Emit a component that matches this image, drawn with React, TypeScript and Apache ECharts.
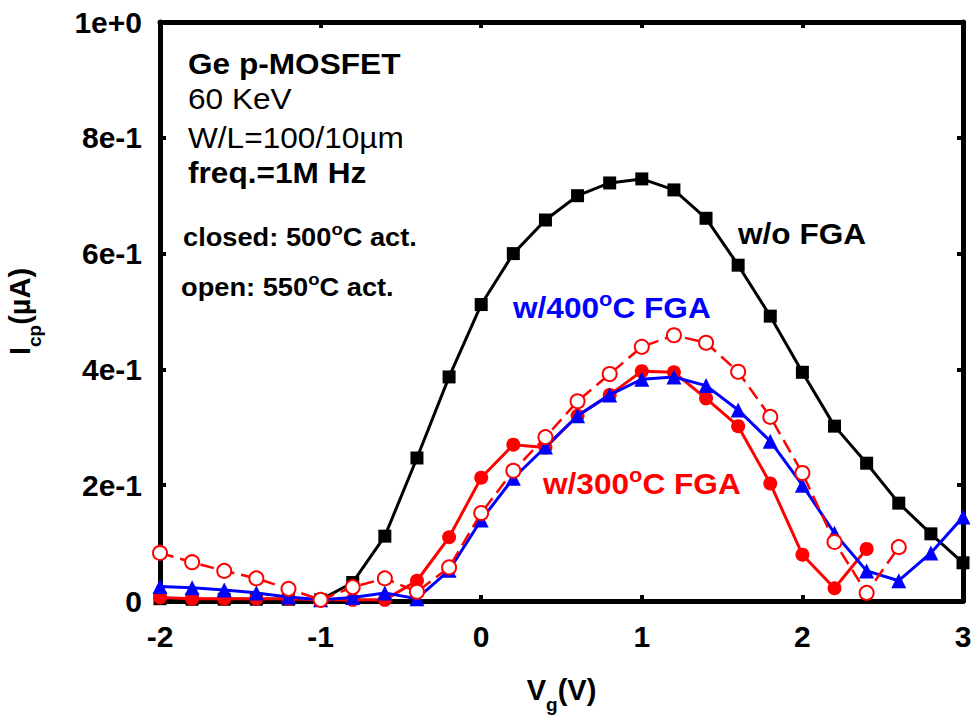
import React, { useEffect, useRef } from "react";
import * as echarts from "echarts";

const vg = [-2, -1.8, -1.6, -1.4, -1.2, -1.0, -0.8, -0.6, -0.4, -0.2, 0, 0.2, 0.4, 0.6, 0.8, 1.0, 1.2, 1.4, 1.6, 1.8, 2.0, 2.2, 2.4, 2.6, 2.8, 3.0];
const noFGA = [0.004, 0.003, 0.003, 0.003, 0.003, 0.002, 0.032, 0.112, 0.247, 0.387, 0.512, 0.6, 0.658, 0.7, 0.722, 0.729, 0.71, 0.661, 0.58, 0.492, 0.395, 0.302, 0.238, 0.169, 0.116, 0.066];
const fga400 = [0.025, 0.023, 0.019, 0.014, 0.007, 0.002, 0.006, 0.014, 0.004, 0.053, 0.14, 0.212, 0.266, 0.32, 0.356, 0.383, 0.387, 0.372, 0.33, 0.276, 0.2, 0.117, 0.052, 0.035, 0.083, 0.145];
const fga300Closed = [0.006, 0.004, 0.004, 0.004, 0.004, 0.002, 0.002, 0.002, 0.035, 0.11, 0.213, 0.27, 0.265, 0.32, 0.356, 0.397, 0.395, 0.35, 0.302, 0.203, 0.08, 0.022, 0.09];
const fga300Open = [0.083, 0.067, 0.052, 0.039, 0.021, 0.002, 0.024, 0.039, 0.016, 0.058, 0.152, 0.225, 0.283, 0.345, 0.392, 0.439, 0.459, 0.446, 0.396, 0.318, 0.221, 0.102, 0.014, 0.093];
const yTickLabels = ["0", "2e-1", "4e-1", "6e-1", "8e-1", "1e+0"];
const xTickLabels = ["-2", "-1", "0", "1", "2", "3"];

const FONT = "Liberation Sans";
const RED = "#ff0000";
const BLUE = "#0000ff";

const pairs = (ys: number[]) => ys.map((y, i) => [vg[i], y]);

export default function App() {
  const ref = useRef<HTMLDivElement>(null);
  useEffect(() => {
    if (!ref.current) return;
    const chart = echarts.init(ref.current, null, { renderer: "svg" });
    const axisLine = { show: true, onZero: false, lineStyle: { color: "#000", width: 5 } };
    const tick = { show: true, inside: true, length: 6, lineStyle: { color: "#000", width: 4 } };
    const labelStyle = { color: "#000", fontSize: 30, fontWeight: "bold", fontFamily: FONT };
    const SX = 1.09;
    // text with a superscript "o"; y is the vertical centre of the main text
    const supText = (t: string, color: string, size: number, x: number, y: number) => ({
      type: "text",
      x,
      y,
      scaleX: SX,
      style: {
        text: t,
        fill: color,
        font: `bold ${size}px ${FONT}`,
        align: "left",
        verticalAlign: "middle",
        rich: {
          n: { fontSize: size, fontWeight: "bold", fontFamily: FONT, fill: color, lineHeight: Math.round(size * 1.3) },
          s: { fontSize: Math.round(size * 0.68), fontWeight: "bold", fontFamily: FONT, fill: color, lineHeight: Math.round(size * 0.68), verticalAlign: "top" },
        },
      },
    });
    const plainText = (t: string, weight: string, size: number, x: number, y: number) => ({
      type: "text",
      x,
      y,
      scaleX: SX,
      style: { text: t, fill: "#000", font: `${weight} ${size}px ${FONT}`, align: "left", verticalAlign: "middle" },
    });
    const nameRich = {
      b: { fontSize: 29, fontWeight: "bold", fontFamily: FONT, color: "#000", lineHeight: 34 },
      sub: { fontSize: 19, fontWeight: "bold", fontFamily: FONT, color: "#000", lineHeight: 19, padding: [22, 0, 0, 0], verticalAlign: "top" },
    };
    chart.setOption({
      animation: false,
      backgroundColor: "#fff",
      grid: { left: 160, right: 11, top: 22, bottom: 117, containLabel: false, outerBoundsMode: "none" },
      xAxis: [
        {
          type: "value",
          position: "bottom",
          min: -2,
          max: 3,
          interval: 1,
          axisLine,
          axisTick: tick,
          splitLine: { show: false },
          axisLabel: { ...labelStyle, margin: 20, formatter: (v: number) => xTickLabels[Math.round(v) + 2] },
          name: "{b|V}{sub|g}{b|(V)}",
          nameLocation: "middle",
          nameGap: 72,
          nameTextStyle: { rich: nameRich },
        },
        {
          type: "value",
          position: "top",
          min: -2,
          max: 3,
          interval: 1,
          axisLine,
          axisTick: tick,
          splitLine: { show: false },
          axisLabel: { show: false },
        },
      ],
      yAxis: [
        {
          type: "value",
          position: "left",
          min: 0,
          max: 1,
          interval: 0.2,
          axisLine,
          axisTick: tick,
          splitLine: { show: false },
          axisLabel: { ...labelStyle, margin: 18, formatter: (v: number) => yTickLabels[Math.round(v * 5)] },
          name: "{b|I}{sub|cp}{b|(µA)}",
          nameLocation: "middle",
          nameRotate: 90,
          nameGap: 123,
          nameTextStyle: { rich: nameRich },
        },
        {
          type: "value",
          position: "right",
          min: 0,
          max: 1,
          interval: 0.2,
          axisLine,
          axisTick: tick,
          splitLine: { show: false },
          axisLabel: { show: false },
        },
      ],
      series: [
        {
          name: "w/o FGA",
          type: "line",
          data: pairs(noFGA),
          symbol: "rect",
          symbolSize: 13,
          lineStyle: { color: "#000", width: 3 },
          itemStyle: { color: "#000" },
          z: 2,
        },
        {
          name: "w/300C FGA closed",
          type: "line",
          data: pairs(fga300Closed),
          symbol: "circle",
          symbolSize: 14,
          lineStyle: { color: RED, width: 3 },
          itemStyle: { color: RED },
          z: 3,
        },
        {
          name: "w/400C FGA",
          type: "line",
          data: pairs(fga400),
          symbol: "triangle",
          symbolSize: 15,
          lineStyle: { color: BLUE, width: 3 },
          itemStyle: { color: BLUE },
          z: 4,
        },
        {
          name: "w/300C FGA open",
          type: "line",
          data: pairs(fga300Open),
          symbol: "circle",
          symbolSize: 14,
          lineStyle: { color: RED, width: 2.5, type: [14, 7] },
          itemStyle: { color: "#fff", borderColor: RED, borderWidth: 2 },
          z: 5,
        },
      ],
      graphic: [
        plainText("Ge p-MOSFET", "bold", 29, 188, 64),
        plainText("60 KeV", "normal", 29, 188, 99),
        plainText("W/L=100/10µm", "normal", 29, 188, 138),
        plainText("freq.=1M Hz", "bold", 29, 188, 173),
        supText("{n|closed: 500}{s|o}{n|C act.}", "#000", 25, 183, 237),
        supText("{n|open: 550}{s|o}{n|C act.}", "#000", 25, 181, 287),
        plainText("w/o FGA", "bold", 29, 738, 234),
        supText("{n|w/400}{s|o}{n|C FGA}", BLUE, 29, 513, 308),
        supText("{n|w/300}{s|o}{n|C FGA}", RED, 29, 543, 484),
      ],
    });
    return () => chart.dispose();
  }, []);
  return <div ref={ref} style={{ position: "fixed", left: 0, top: 0, width: 974, height: 718 }} />;
}
